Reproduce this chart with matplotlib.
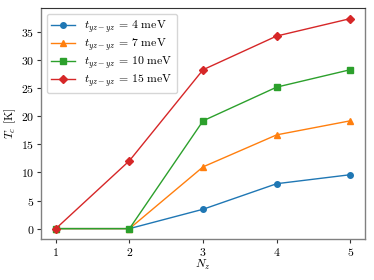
import matplotlib
matplotlib.use("Agg")
import matplotlib.pyplot as plt

plt.rcParams['font.family'] = 'serif'
plt.rcParams['font.serif'] = ['cmr10']
plt.rcParams['mathtext.fontset'] = 'cm'
plt.rcParams['axes.formatter.use_mathtext'] = True
plt.rcParams['axes.unicode_minus'] = False

nz = [1, 2, 3, 4, 5]
t4 = [0, 0, 3.45, 8.0, 9.6]
t7 = [0, 0, 11.0, 16.7, 19.2]
t10 = [0, 0, 19.2, 25.2, 28.3]
t15 = [0, 12.1, 28.3, 34.3, 37.4]
labels = [r'$t_{yz-yz}$ = 4 meV', r'$t_{yz-yz}$ = 7 meV',
          r'$t_{yz-yz}$ = 10 meV', r'$t_{yz-yz}$ = 15 meV']

fig = plt.figure(figsize=(3.74, 2.8), dpi=100)
ax = fig.add_axes([0.11, 0.146, 0.866, 0.825])

series = [t4, t7, t10, t15]
markers = ['o', '^', 's', 'D']
colors = ['#1f77b4', '#ff7f0e', '#2ca02c', '#d62728']
for s, m, c, l in zip(series, markers, colors, labels):
    ax.plot(nz, s, marker=m, color=c, label=l, lw=1.0, ms=4)

ax.set_xticks(nz)
ax.set_yticks([0, 5, 10, 15, 20, 25, 30, 35])
ax.tick_params(labelsize=8.5, length=3, width=0.8, color='#333333', pad=2)
ax.set_xlabel(r'$N_z$', fontsize=8.5, labelpad=0)
ax.set_ylabel(r'$T_c$ [K]', fontsize=8.5, labelpad=2)
for side in ['left', 'bottom', 'right']:
    ax.spines[side].set_color('#808080')
    ax.spines[side].set_linewidth(1.0)
ax.spines['top'].set_color('#333333')
ax.spines['top'].set_linewidth(0.8)
ax.legend(loc='upper left', fontsize=8.5, handlelength=2.0, borderaxespad=0.5,
          labelspacing=0.12, handletextpad=0.8, borderpad=0.35)

fig.savefig('out.png', dpi=100)
